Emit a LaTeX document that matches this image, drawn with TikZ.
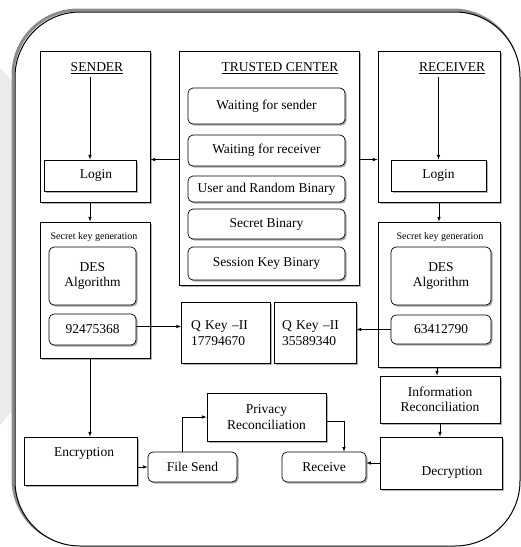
\documentclass[tikz,border=0pt]{standalone}
\usepackage{fontspec}
\setmainfont{Liberation Serif}
\usetikzlibrary{shadows}
\tikzset{box/.style={draw,line width=0.9pt,fill=white,inner sep=0pt,
		drop shadow={shadow xshift=1.6pt,shadow yshift=-1.6pt,fill=black!60}},
	rbox/.style={box,rounded corners=5pt,line width=0.7pt,
		drop shadow={shadow xshift=1.2pt,shadow yshift=-1.2pt,fill=black!40}},
	conn/.style={->,>=latex,semithick},
	small/.style={font=\fontsize{10}{12}\selectfont}}

\begin{document}
\begin{tikzpicture}
	[x=1pt,y=-1pt, every node/.style={font=\fontsize{13.5}{15.5}\selectfont}]
	\useasboundingbox (0,0) rectangle (521,547);
	% background frame
	\fill[black!8] (0,68) -- (13,82) -- (13,410) -- (0,425) -- cycle;
	\draw[black!45,line width=3pt,rounded corners=65] (13,10) rectangle (518,544);
	\draw[line width=1pt,rounded corners=65,fill=white] (15,12) rectangle (520,546);

	% sender side
	\node [box,minimum width=110,minimum height=151] (sender) at (95,126.5) {};
	\node (sendertxt) at (97,68) {\underline{SENDER}};
	\node [box,minimum width=92,minimum height=31] (slogin) at (90,175.5) {\hspace*{12pt}Login};
	\node [box,minimum width=110,minimum height=136] (sskg) at (95,290) {};
	\node [small] (sskgtxt) at (94,237) {Secret key generation};
	\node [rbox,minimum width=87,minimum height=58,align=center] (sdes) at (92.5,276) {DES\\Algorithm};
	\node [rbox,minimum width=87,minimum height=31] (snum) at (92.5,329.5) {92475368};

	% trusted center
	\node [box,minimum width=180,minimum height=234] (tc) at (269,168) {};
	\node (tctxt) at (280,68) {\underline{TRUSTED CENTER}};
	\node [rbox,minimum width=157,minimum height=36] (wsend) at (266.5,106) {Waiting for sender};
	\node [rbox,minimum width=157,minimum height=31] (wrecv) at (266.5,150.5) {Waiting for receiver};
	\node [rbox,minimum width=157,minimum height=26] (urand) at (266.5,189) {User and Random Binary};
	\node [rbox,minimum width=157,minimum height=30] (sbin) at (266.5,224) {Secret Binary};
	\node [rbox,minimum width=157,minimum height=33] (skey) at (266.5,263.5) {Session Key Binary};

	% receiver side
	\node [box,minimum width=122,minimum height=151] (receiver) at (439,126.5) {};
	\node (receivertxt) at (452,68) {\underline{RECEIVER}};
	\node [box,minimum width=95,minimum height=31] (rlogin) at (438.5,175.5) {Login};
	\node [box,minimum width=122,minimum height=145] (rskg) at (439,294.5) {};
	\node [small] (rskgtxt) at (440,237) {Secret key generation};
	\node [rbox,minimum width=100,minimum height=58,align=center] (rdes) at (441,276) {DES\\Algorithm};
	\node [rbox,minimum width=100,minimum height=29] (rnum) at (441,329.5) {63412790};

	% quantum keys
	\node [box,minimum width=89,minimum height=61,align=left,text width=70] (qa) at (226,333) {Q Key --II\\17794670};
	\node [box,minimum width=82,minimum height=61,align=left,text width=66] (qb) at (315,333) {Q Key --II\\35589340};

	% transfer
	\node [box,minimum width=113,minimum height=48] (enc) at (80.5,461) {};
	\node (enctxt) at (84,453) {Encryption};
	\node [rbox,minimum width=89,minimum height=30] (fsend) at (192.5,467) {File Send};
	\node [box,minimum width=119,minimum height=48,align=center] (priv) at (266.5,417) {Privacy\\Reconciliation};
	\node [rbox,minimum width=84,minimum height=30] (recv) at (324,467) {Receive};
	\node [box,minimum width=120,minimum height=47,align=center] (info) at (440,399.5) {Information\\Reconciliation};
	\node [box,minimum width=122,minimum height=52] (dec) at (441,463) {};
	\node (dectxt) at (452,472) {Decryption};

	\draw [conn] (slogin.north |- sendertxt.south) -- (slogin.north);
	\draw [conn] (rlogin.north |- receivertxt.south) -- (rlogin.north);
	\draw [conn] (tc.west |- slogin.north) -- (sender.east |- slogin.north);
	\draw [conn] (tc.east |- rlogin.north) -- (receiver.west |- rlogin.north);
	\draw [conn] (slogin.south |- sender.south) -- (slogin.south |- sskg.north);
	\draw [conn] (receiver.south) -- (rskg.north);
	\draw [conn] ([yshift=3]snum.east) -- ([yshift=3]snum.east -| qa.west);
	\draw [conn] (rnum.west) -- (rnum.west -| qb.east);
	\draw [conn] (slogin.south |- sskg.south) -- (slogin.south |- enc.north);
	\draw [conn] (fsend.west -| enc.east) -- (fsend.west);
	\draw [conn] ([xshift=-10]fsend.north) |- (priv.west);
	\draw [conn] ([yshift=-4]priv.east) -| ([xshift=20]recv.north);
	\draw [conn] (dec.west) -- (dec.west -| recv.east);
	\draw [conn] ([xshift=-2]rskg.south) -- ([xshift=-2]rskg.south |- info.north);
	\draw [conn] (info.south) -- (info.south |- dec.north);
\end{tikzpicture}
\end{document}
